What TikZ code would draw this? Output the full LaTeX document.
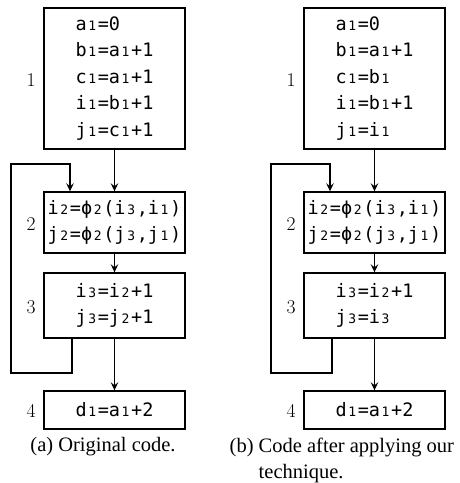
\documentclass[tikz,border=0pt]{standalone}
\usepackage{fontspec}
\newfontfamily\codefont{DejaVu Sans Mono}
\newfontfamily\capfont{Liberation Serif}
\usetikzlibrary{arrows.meta,calc}
\newcommand\sbd[1]{\makebox[0.602em][c]{\fontsize{13}{13}\selectfont #1}}
\begin{document}
\begin{tikzpicture}[x=1pt,y=-1pt,line width=1.4pt,
  box/.style={draw,line width=1.4pt,minimum width=141pt,inner sep=0pt,align=left,
    font=\codefont\fontsize{18.5}{26.5}\selectfont},
  lab/.style={font=\fontsize{19.5}{19.5}\selectfont,anchor=east,inner sep=0pt},
  arr/.style={-{Stealth[length=8pt,width=7.5pt,inset=3pt]}},
  captext/.style={font=\capfont\fontsize{20.5}{26}\selectfont,inner sep=0pt}]
\useasboundingbox (0,0) rectangle (459,483);
% ---------- left panel ----------
\node[box,minimum height=141pt] (b1a) at (114.5,78.5)
  {a\sbd{1}=0\\b\sbd{1}=a\sbd{1}+1\\c\sbd{1}=a\sbd{1}+1\\i\sbd{1}=b\sbd{1}+1\\j\sbd{1}=c\sbd{1}+1};
\node[box,minimum height=61pt] (b2a) at (114.5,222.5)
  {i\sbd{2}=ϕ\sbd{2}(i\sbd{3},i\sbd{1})\\j\sbd{2}=ϕ\sbd{2}(j\sbd{3},j\sbd{1})};
\node[box,minimum height=65pt] (b3a) at (114.5,305.5)
  {i\sbd{3}=i\sbd{2}+1\\j\sbd{3}=j\sbd{2}+1};
\node[box,minimum height=38pt] (b4a) at (114.5,410)
  {d\sbd{1}=a\sbd{1}+2};
\node[lab] (l1a) at ([xshift=-7pt,yshift=-1.5pt]b1a.west) {1};
\node[lab] (l2a) at ([xshift=-7pt,yshift=-1.5pt]b2a.west) {2};
\node[lab] (l3a) at ([xshift=-7pt,yshift=-2pt]b3a.west) {3};
\node[lab] (l4a) at ([xshift=-7pt,yshift=-1pt]b4a.west) {4};
\draw[arr] (b1a.south) -- (b2a.north);
\draw[arr] (b2a.south) -- (b3a.north);
\draw[arr] (b3a.south) -- (b4a.north);
\draw[arr] (72,0 |- b3a.south) -- (72,373) -- (11,373) -- (11,164) -- (70,164) -- (70,0 |- b2a.north);
\node[captext] (capa) at (103,447) {(a) Original code.};
% ---------- right panel ----------
\begin{scope}[xshift=260pt]
\node[box,minimum height=141pt] (b1b) at (114.5,78.5)
  {a\sbd{1}=0\\b\sbd{1}=a\sbd{1}+1\\c\sbd{1}=b\sbd{1}\\i\sbd{1}=b\sbd{1}+1\\j\sbd{1}=i\sbd{1}\phantom{+1}};
\node[box,minimum height=61pt] (b2b) at (114.5,222.5)
  {i\sbd{2}=ϕ\sbd{2}(i\sbd{3},i\sbd{1})\\j\sbd{2}=ϕ\sbd{2}(j\sbd{3},j\sbd{1})};
\node[box,minimum height=65pt] (b3b) at (114.5,305.5)
  {i\sbd{3}=i\sbd{2}+1\\j\sbd{3}=i\sbd{3}};
\node[box,minimum height=38pt] (b4b) at (114.5,410)
  {d\sbd{1}=a\sbd{1}+2};
\node[lab] (l1b) at ([xshift=-7pt,yshift=-1.5pt]b1b.west) {1};
\node[lab] (l2b) at ([xshift=-7pt,yshift=-1.5pt]b2b.west) {2};
\node[lab] (l3b) at ([xshift=-7pt,yshift=-2pt]b3b.west) {3};
\node[lab] (l4b) at ([xshift=-7pt,yshift=-1pt]b4b.west) {4};
\draw[arr] (b1b.south) -- (b2b.north);
\draw[arr] (b2b.south) -- (b3b.north);
\draw[arr] (b3b.south) -- (b4b.north);
\draw[arr] (72,0 |- b3b.south) -- (72,373) -- (11,373) -- (11,164) -- (70,164) -- (70,0 |- b2b.north);
\end{scope}
\node[captext,anchor=west,align=left] (capb) at (229,460)
  {(b) Code after applying our\\\hphantom{(b) }technique.};
\end{tikzpicture}
\end{document}
